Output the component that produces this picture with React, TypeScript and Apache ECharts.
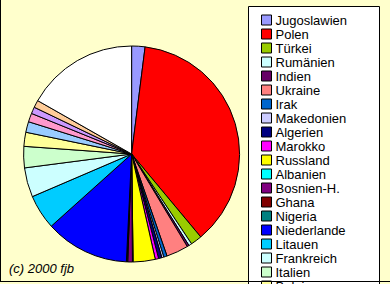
import React, { useEffect, useRef } from "react";
import * as echarts from "echarts";

// Share of each country (percent), in pie order clockwise from 12 o'clock
const countries = [
  "Jugoslawien", "Polen", "Türkei", "Rumänien", "Indien", "Ukraine", "Irak",
  "Makedonien", "Algerien", "Marokko", "Russland", "Albanien", "Bosnien-H.",
  "Ghana", "Nigeria", "Niederlande", "Litauen", "Frankreich", "Italien", "Belgien",
  "Land 21", "Land 22", "Land 23", "Land 24", "Sonstige",
];
const shares = [
  2.0, 37.0, 1.7, 0.45, 0.3, 3.3, 0.5,
  0.3, 0.5, 0.5, 3.3, 0.1, 0.7,
  0.1, 0.1, 12.6, 5.2, 4.4, 3.2, 2.1,
  1.6, 1.3, 1.0, 1.1, 16.8,
];
const colors = [
  "#9999FF", "#FF0000", "#99CC00", "#CCFFFF", "#660066", "#FF8080", "#0066CC",
  "#CCCCFF", "#000080", "#FF00FF", "#FFFF00", "#00FFFF", "#800080",
  "#800000", "#008080", "#0000FF", "#00CCFF", "#CCFFFF", "#CCFFCC", "#FFFF99",
  "#99CCFF", "#FF99CC", "#CC99FF", "#FFCC99", "#FFFFFF",
];
const legendNames = countries.slice(0, 20);
const credit = "(c) 2000 fjb";

export default function App() {
  const ref = useRef<HTMLDivElement>(null);
  useEffect(() => {
    if (!ref.current) return;
    const chart = echarts.init(ref.current, null, { renderer: "svg" });
    chart.setOption({
      animation: false,
      backgroundColor: "#FFFFCC",
      color: colors,
      legend: {
        orient: "vertical",
        left: 261,
        top: 13,
        height: 800,
        padding: 0,
        itemWidth: 10,
        itemHeight: 10,
        itemGap: 0,
        icon: "rect",
        z: 10,
        selectedMode: false,
        data: legendNames,
        itemStyle: { borderColor: "#000", borderWidth: 1 },
        textStyle: {
          fontFamily: "Liberation Sans, Arial, sans-serif",
          fontSize: 13,
          lineHeight: 14,
          color: "#000",
          padding: [0, 0, 0, -1],
        },
      },
      graphic: [
        {
          type: "rect",
          z: 0,
          shape: { x: 248.5, y: 6.5, width: 131, height: 300 },
          style: { fill: "#FFFFFF", stroke: "#000", lineWidth: 1 },
        },
        {
          type: "line",
          z: 20,
          shape: { x1: 0.5, y1: 0, x2: 0.5, y2: 282 },
          style: { stroke: "#000", lineWidth: 1 },
        },
        {
          type: "line",
          z: 20,
          shape: { x1: 0, y1: 281.5, x2: 390, y2: 281.5 },
          style: { stroke: "#000", lineWidth: 1 },
        },
        {
          type: "text",
          z: 20,
          x: 9,
          y: 268.5,
          style: {
            text: credit,
            fontFamily: "Liberation Sans, Arial, sans-serif",
            fontStyle: "italic",
            fontSize: 13,
            fill: "#000",
            textVerticalAlign: "middle",
          },
        },
      ],
      series: [
        {
          type: "pie",
          center: [131.6, 154],
          radius: 108,
          startAngle: 90,
          clockwise: true,
          label: { show: false },
          labelLine: { show: false },
          emphasis: { disabled: true },
          itemStyle: { borderColor: "#000", borderWidth: 1 },
          data: countries.map((n, i) => ({ name: n, value: shares[i] })),
        },
      ],
    });
    return () => chart.dispose();
  }, []);
  return (
    <div
      ref={ref}
      style={{ position: "fixed", left: 0, top: 0, width: 390, height: 284 }}
    />
  );
}
